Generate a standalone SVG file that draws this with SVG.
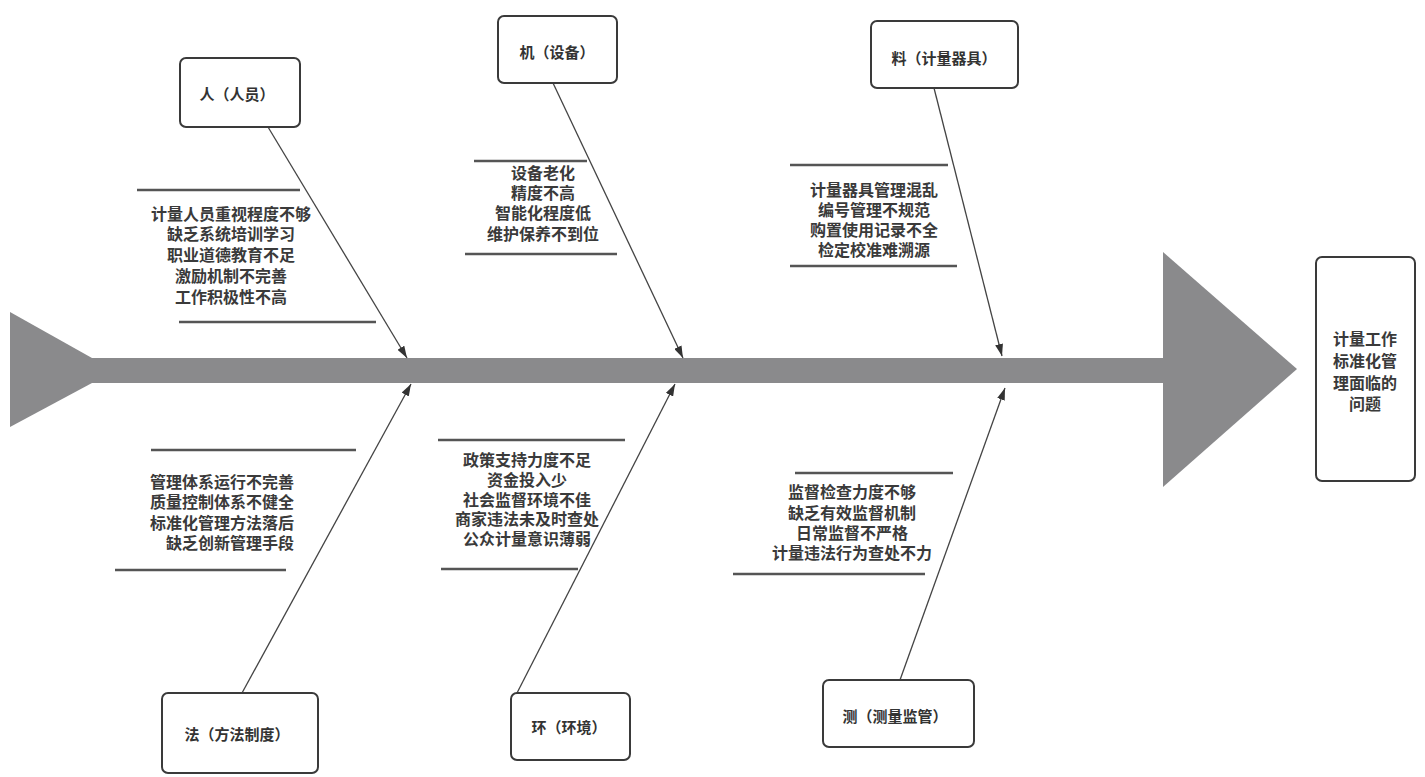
<svg xmlns="http://www.w3.org/2000/svg" width="1425" height="777" viewBox="0 0 1425 777">
<style>
.box{fill:#fff;stroke:#3a3a3a;stroke-width:2}
.lbl{font-family:"Noto Sans CJK SC","Noto Sans",sans-serif;font-weight:bold;font-size:15px;fill:#333;text-anchor:middle}
.cause{font-family:"Noto Sans CJK SC","Noto Sans",sans-serif;font-weight:bold;font-size:16px;fill:#3a3a3a;text-anchor:middle}
.rt{text-anchor:end}
.rule{stroke:#555;stroke-width:2.5}
.bone{stroke:#444;stroke-width:1.3;fill:none;marker-end:url(#ah)}
.spine{fill:#8a8a8c}
</style>
<defs>
<marker id="ah" viewBox="0 0 12 8" refX="12" refY="4" markerWidth="12" markerHeight="8" markerUnits="userSpaceOnUse" orient="auto">
<path d="M0,0 L12,4 L0,8 Z" fill="#333"/>
</marker>
</defs>
<rect width="1425" height="777" fill="#fff"/>
<g id="spine">
<polygon class="spine" points="10,312 92,358 92,383 10,427"/>
<rect class="spine" x="90" y="358" width="1076" height="25"/>
<polygon class="spine" points="1163,252 1297,369 1163,487"/>
</g>
<g id="connectors">
<line class="bone" x1="268" y1="127" x2="407" y2="358"/>
<line class="bone" x1="553" y1="83" x2="683" y2="358"/>
<line class="bone" x1="934" y1="88" x2="1002" y2="356"/>
<line class="bone" x1="242" y1="693" x2="411" y2="384"/>
<line class="bone" x1="517" y1="693" x2="675" y2="384"/>
<line class="bone" x1="900" y1="680" x2="1005" y2="388"/>
</g>
<g id="effect">
<rect class="box" x="1316" y="257" width="99" height="224" rx="6"/>
<text class="cause" x="1365" y="345">计量工作</text>
<text class="cause" x="1365" y="367">标准化管</text>
<text class="cause" x="1365" y="389">理面临的</text>
<text class="cause" x="1365" y="410">问题</text>
</g>
<g id="people">
<rect class="box" x="180" y="58" width="120" height="69" rx="6"/>
<text class="lbl" x="237" y="100">人（人员）</text>
<line class="rule" x1="137" y1="190" x2="300" y2="190"/>
<line class="rule" x1="179" y1="322" x2="376" y2="322"/>
<text class="cause" x="231" y="220">计量人员重视程度不够</text>
<text class="cause" x="231" y="240">缺乏系统培训学习</text>
<text class="cause" x="231" y="261">职业道德教育不足</text>
<text class="cause" x="231" y="282">激励机制不完善</text>
<text class="cause" x="231" y="303">工作积极性不高</text>
</g>
<g id="machine">
<rect class="box" x="498" y="16" width="119" height="67" rx="6"/>
<text class="lbl" x="557" y="58">机（设备）</text>
<line class="rule" x1="474" y1="161" x2="587" y2="161"/>
<line class="rule" x1="465" y1="254" x2="617" y2="254"/>
<text class="cause" x="543" y="179">设备老化</text>
<text class="cause" x="543" y="199">精度不高</text>
<text class="cause" x="543" y="219">智能化程度低</text>
<text class="cause" x="543" y="240">维护保养不到位</text>
</g>
<g id="material">
<rect class="box" x="871" y="21" width="147" height="67" rx="6"/>
<text class="lbl" x="944" y="64">料（计量器具）</text>
<line class="rule" x1="790" y1="165" x2="948" y2="165"/>
<line class="rule" x1="790" y1="266" x2="957" y2="266"/>
<text class="cause" x="874" y="196">计量器具管理混乱</text>
<text class="cause" x="874" y="216">编号管理不规范</text>
<text class="cause" x="874" y="236">购置使用记录不全</text>
<text class="cause" x="874" y="256">检定校准难溯源</text>
</g>
<g id="method">
<rect class="box" x="162" y="693" width="156" height="80" rx="6"/>
<text class="lbl" x="237" y="740">法（方法制度）</text>
<line class="rule" x1="151" y1="450" x2="356" y2="450"/>
<line class="rule" x1="115" y1="570" x2="286" y2="570"/>
<text class="cause rt" x="294" y="488">管理体系运行不完善</text>
<text class="cause rt" x="294" y="508">质量控制体系不健全</text>
<text class="cause rt" x="294" y="529">标准化管理方法落后</text>
<text class="cause rt" x="294" y="549">缺乏创新管理手段</text>
</g>
<g id="environment">
<rect class="box" x="511" y="693" width="119" height="67" rx="6"/>
<text class="lbl" x="569" y="733">环（环境）</text>
<line class="rule" x1="438" y1="440" x2="625" y2="440"/>
<line class="rule" x1="441" y1="569" x2="578" y2="569"/>
<text class="cause" x="527" y="466">政策支持力度不足</text>
<text class="cause" x="527" y="486">资金投入少</text>
<text class="cause" x="527" y="506">社会监督环境不佳</text>
<text class="cause" x="527" y="525">商家违法未及时查处</text>
<text class="cause" x="527" y="545">公众计量意识薄弱</text>
</g>
<g id="measure">
<rect class="box" x="823" y="680" width="151" height="67" rx="6"/>
<text class="lbl" x="895" y="722">测（测量监管）</text>
<line class="rule" x1="795" y1="473" x2="953" y2="473"/>
<line class="rule" x1="733" y1="574" x2="925" y2="574"/>
<text class="cause" x="852" y="498">监督检查力度不够</text>
<text class="cause" x="852" y="519">缺乏有效监督机制</text>
<text class="cause" x="852" y="539">日常监督不严格</text>
<text class="cause" x="852" y="559">计量违法行为查处不力</text>
</g>
</svg>
